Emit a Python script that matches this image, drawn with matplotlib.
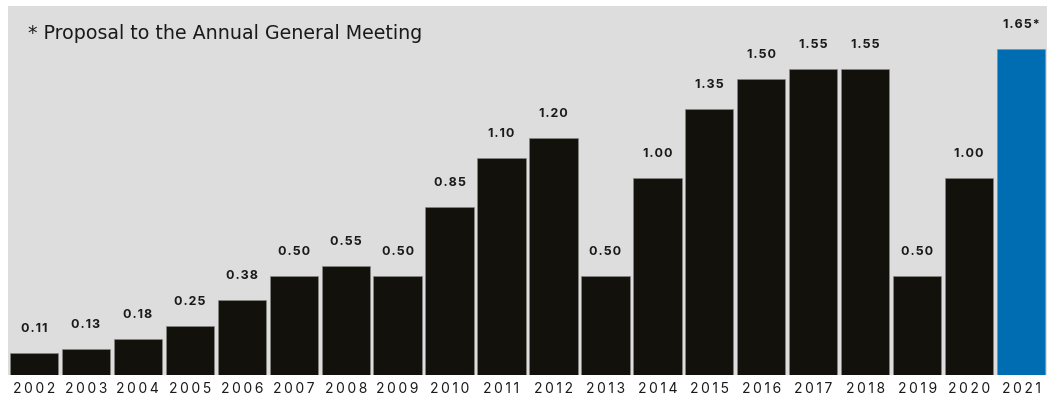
import numpy as np
import matplotlib
matplotlib.use('Agg')
import matplotlib.pyplot as plt

years = ['2002', '2003', '2004', '2005', '2006', '2007', '2008', '2009', '2010', '2011',
         '2012', '2013', '2014', '2015', '2016', '2017', '2018', '2019', '2020', '2021']
dividend = [0.11, 0.13, 0.18, 0.25, 0.38, 0.50, 0.55, 0.50, 0.85, 1.10,
            1.20, 0.50, 1.00, 1.35, 1.50, 1.55, 1.55, 0.50, 1.00, 1.65]
labels = ['0.11', '0.13', '0.18', '0.25', '0.38', '0.50', '0.55', '0.50', '0.85', '1.10',
          '1.20', '0.50', '1.00', '1.35', '1.50', '1.55', '1.55', '0.50', '1.00', '1.65*']

plt.rcParams['font.family'] = ['Inter', 'DejaVu Sans']

bg = '#dcdddc'
dark = '#12110c'
blue = '#006db3'

fig = plt.figure(figsize=(10.47, 3.96), dpi=100)
ax = fig.add_axes([8 / 1047, 1 - 375 / 396, 1039 / 1047, 369 / 396])
ax.set_facecolor(bg)

x = np.arange(len(years))
colors = [dark] * (len(years) - 1) + [blue]
bars = ax.bar(x, dividend, width=0.93, color=colors, edgecolor='#8a8a88', linewidth=0.4)

for xi, v, lab in zip(x, dividend, labels):
    ax.annotate('\u200a'.join(lab), (xi, v), xytext=(0, 13), textcoords='offset points',
                ha='center', va='bottom', fontsize=9, fontweight='bold', color='#1a1a1a')

ax.set_xlim(-0.5, 19.5)
ax.set_ylim(0, 1.87)
ax.set_xticks(x)
ax.set_xticklabels(['\u2009'.join(y) for y in years], fontsize=10, color='#1a1a1a')
ax.tick_params(axis='x', length=0, pad=5)
ax.set_yticks([])
for s in ax.spines.values():
    s.set_visible(False)

ax.text(20 / 1039, 1 - 27 / 369, '* Proposal to the Annual General Meeting', transform=ax.transAxes,
        fontsize=13.7, family='DejaVu Sans', color='#1a1a1a', ha='left', va='center')

fig.savefig('out.png', dpi=100)
